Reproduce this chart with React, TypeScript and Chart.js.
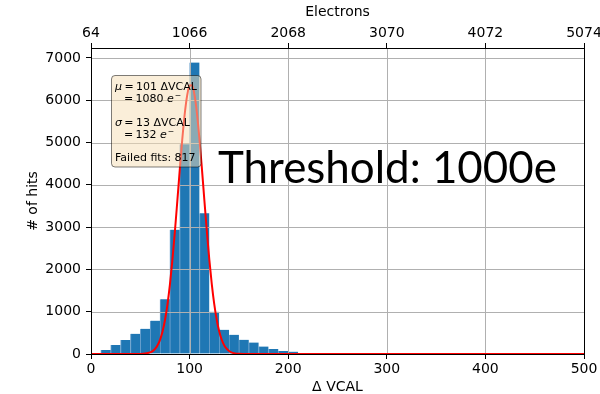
import React, { useEffect, useRef } from 'react';
import { Chart, registerables } from 'chart.js';

Chart.register(...registerables);

// Histogram bins (ΔVCAL, bin centres, width 10)
const binCenters = [5, 15, 25, 35, 45, 55, 65, 75, 85, 95, 105, 115, 125, 135, 145, 155, 165, 175, 185, 195,
  205, 215, 225, 235, 245, 255, 265, 275, 285, 295, 305, 315, 325, 335, 345, 355, 365, 375, 385, 395,
  405, 415, 425, 435, 445, 455, 465, 475, 485, 495];
const hitCounts = [8, 92, 212, 330, 478, 598, 788, 1295, 2940, 4960, 6890, 3330, 1000, 572, 455, 335, 272, 178, 120, 72,
  55, 22, 14, 6, 3, 2, 1, 0, 0, 0, 0, 0, 0, 0, 0, 0, 0, 0, 0, 0,
  0, 0, 0, 0, 0, 0, 0, 0, 0, 0];

// Gaussian fit curve
const fitX = [0, 40, 50, 55, 60, 62.5, 65, 67.5, 70, 72.5, 75, 77.5, 80, 82.5, 85, 87.5, 90, 92.5, 95, 97.5, 100,
  102.5, 105, 107.5, 110, 112.5, 115, 117.5, 120, 122.5, 125, 127.5, 130, 132.5, 135, 137.5, 140, 142.5, 145, 150, 160, 500];
const fitY = [0, 0, 2, 10, 38, 69, 122, 206, 336, 528, 799, 1163, 1633, 2206, 2872, 3601, 4347, 5055, 5663, 6109, 6348,
  6352, 6123, 5684, 5082, 4377, 3630, 2900, 2231, 1653, 1180, 811, 537, 342, 210, 125, 71, 39, 21, 5, 0, 0];

const yTickValues = [0, 1000, 2000, 3000, 4000, 5000, 6000, 7000];
const bottomTicks = ['0', '100', '200', '300', '400', '500'];
const electronTicks = ['64', '1066', '2068', '3070', '4072', '5074'];

const yMax = 7235;
const FONT = 'DejaVu Sans';

type Seg = { t: string; f: 'n' | 'i' | 's'; gap?: number };

const overlayPlugin = {
  id: 'overlay',
  afterDatasetDraw(chart: any, args: any) {
    if (args.meta.type !== 'bar') return;
    const { ctx, chartArea: ca, scales } = chart;
    ctx.save();
    ctx.strokeStyle = '#b0b0b0';
    ctx.lineWidth = 1;
    ctx.beginPath();
    for (const t of scales.x.ticks) {
      const px = Math.round(scales.x.getPixelForValue(t.value)) + 0.5;
      ctx.moveTo(px, ca.top);
      ctx.lineTo(px, ca.bottom);
    }
    for (const t of scales.y.ticks) {
      const py = Math.round(scales.y.getPixelForValue(t.value)) + 0.5;
      ctx.moveTo(ca.left, py);
      ctx.lineTo(ca.right, py);
    }
    ctx.stroke();
    ctx.restore();
  },
  afterDatasetsDraw(chart: any) {
    const { ctx, chartArea: ca } = chart;
    ctx.save();
    const text = 'Threshold: 1000e';
    ctx.font = '42px Lato';
    const w = ctx.measureText(text).width;
    const size = 42 * 339 / w;
    ctx.font = `${size}px Lato`;
    ctx.fillStyle = '#000';
    ctx.textBaseline = 'alphabetic';
    ctx.textAlign = 'left';
    ctx.fillText(text, 218, 183);
    ctx.strokeStyle = '#000';
    ctx.lineWidth = 1;
    ctx.strokeRect(Math.round(ca.left) + 0.5, Math.round(ca.top) + 0.5, Math.round(ca.right) - Math.round(ca.left), Math.round(ca.bottom) - Math.round(ca.top));
    ctx.restore();
  },
  afterDraw(chart: any) {
    const { ctx } = chart;
    ctx.save();
    ctx.beginPath();
    (ctx as any).roundRect(111.5, 75.5, 89.5, 91.5, 3.5);
    ctx.fillStyle = 'rgba(245,222,179,0.5)';
    ctx.fill();
    ctx.strokeStyle = 'rgba(0,0,0,0.5)';
    ctx.lineWidth = 1;
    ctx.stroke();

    ctx.fillStyle = '#000';
    ctx.textBaseline = 'alphabetic';
    ctx.textAlign = 'left';
    const fonts: Record<string, string> = {
      n: `11px "${FONT}"`,
      i: `oblique 11px "${FONT}"`,
      s: `7.7px "${FONT}"`,
    };
    const line = (segs: Seg[], x0: number, y: number) => {
      let x = x0;
      for (const s of segs) {
        x += s.gap || 0;
        ctx.font = fonts[s.f];
        ctx.fillText(s.t, x, s.f === 's' ? y - 4.3 : y);
        x += ctx.measureText(s.t).width;
      }
    };
    line([{ t: '\u03bc', f: 'i' }, { t: '=', f: 'n', gap: 2.4 }, { t: '101', f: 'n', gap: 2.4 }, { t: ' \u0394VCAL', f: 'n' }], 115, 89.5);
    line([{ t: '=', f: 'n' }, { t: '1080', f: 'n', gap: 2.4 }, { t: 'e', f: 'i', gap: 3.5 }, { t: '\u2212', f: 's', gap: 0.8 }], 124, 101.8);
    line([{ t: '\u03c3', f: 'i' }, { t: '=', f: 'n', gap: 2.4 }, { t: '13', f: 'n', gap: 2.4 }, { t: ' \u0394VCAL', f: 'n' }], 115, 126);
    line([{ t: '=', f: 'n' }, { t: '132', f: 'n', gap: 2.4 }, { t: 'e', f: 'i', gap: 3.5 }, { t: '\u2212', f: 's', gap: 0.8 }], 124, 137.8);
    line([{ t: 'Failed fits: 817', f: 'n' }], 115, 161);
    ctx.restore();
  },
};

export default function App() {
  const ref = useRef<HTMLCanvasElement>(null);
  useEffect(() => {
    const barData = binCenters.map((x, i) => ({ x, y: hitCounts[i] }));
    const lineData = fitX.map((x, i) => ({ x, y: fitY[i] }));
    const tickFont = { family: FONT, size: 14 };
    const chart = new Chart(ref.current!, {
      type: 'bar',
      data: {
        datasets: [
          {
            type: 'line',
            data: lineData,
            borderColor: '#ff0000',
            borderWidth: 2,
            pointRadius: 0,
            cubicInterpolationMode: 'monotone',
            xAxisID: 'x',
            yAxisID: 'y',
            order: 0,
          } as any,
          {
            type: 'bar',
            data: barData,
            backgroundColor: '#1f77b4',
            borderColor: 'rgba(90,150,200,0.9)',
            borderWidth: { left: 1, right: 0, top: 0, bottom: 0 },
            borderSkipped: false,
            barPercentage: 1,
            categoryPercentage: 1,
            xAxisID: 'x',
            yAxisID: 'y',
            order: 1,
          } as any,
        ],
      },
      options: {
        animation: false,
        responsive: false,
        devicePixelRatio: 1,
        layout: { padding: { left: 0, right: 16, top: 0, bottom: 0 } },
        plugins: { legend: { display: false }, tooltip: { enabled: false } },
        scales: {
          x: {
            type: 'linear',
            position: 'bottom',
            min: 0,
            max: 500,
            offset: false,
            ticks: {
              stepSize: 100,
              autoSkip: false,
              maxRotation: 0,
              color: '#000',
              font: tickFont,
              padding: 2,
              callback: (v: any, i: number) => bottomTicks[i],
            },
            grid: { display: true, drawOnChartArea: false, drawTicks: true, tickLength: 5, tickColor: '#000', offset: false },
            border: { display: true, color: '#000', width: 1 },
            title: { display: true, text: '\u0394 VCAL', color: '#000', font: { family: FONT, size: 14, lineHeight: 1 }, padding: { top: 0, bottom: 0 } },
            afterFit: (s: any) => { s.height = 40; s.paddingLeft = 0; s.paddingRight = 0; },
          },
          xTop: {
            type: 'linear',
            position: 'top',
            min: 0,
            max: 500,
            offset: false,
            ticks: {
              stepSize: 100,
              autoSkip: false,
              maxRotation: 0,
              color: '#000',
              font: tickFont,
              padding: 1,
              callback: (v: any, i: number) => electronTicks[i],
            },
            grid: { display: true, drawOnChartArea: false, drawTicks: true, tickLength: 5, tickColor: '#000', offset: false },
            border: { display: true, color: '#000', width: 1 },
            title: { display: true, text: 'Electrons', color: '#000', font: { family: FONT, size: 14, lineHeight: 1 }, padding: { top: 5, bottom: 0 } },
            afterFit: (s: any) => { s.height = 48; s.paddingLeft = 0; s.paddingRight = 0; },
          },
          y: {
            type: 'linear',
            position: 'left',
            min: 0,
            max: yMax,
            ticks: {
              autoSkip: false,
              color: '#000',
              font: tickFont,
              padding: 5,
              callback: (v: any) => String(v),
            },
            afterBuildTicks: (s: any) => { s.ticks = yTickValues.map((v) => ({ value: v })); },
            grid: { display: true, drawOnChartArea: false, drawTicks: true, tickLength: 5, tickColor: '#000' },
            border: { display: true, color: '#000', width: 1 },
            title: { display: true, text: '# of hits', color: '#000', font: { family: FONT, size: 14, lineHeight: 1 }, padding: { top: 26, bottom: 0 } },
            afterFit: (s: any) => { s.width = 91; s.paddingTop = 0; s.paddingBottom = 0; },
          },
        },
      } as any,
      plugins: [overlayPlugin],
    });
    return () => chart.destroy();
  }, []);
  return (
    <div style={{ position: 'fixed', left: 0, top: 0, width: 600, height: 394, background: '#fff' }}>
      <canvas ref={ref} width={600} height={394} style={{ width: 600, height: 394, display: 'block' }} />
    </div>
  );
}
